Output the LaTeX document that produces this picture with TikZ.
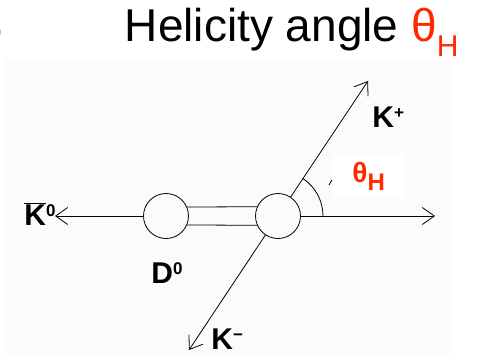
\documentclass[tikz,border=0pt]{standalone}
\usepackage{fontspec}
\setmainfont{Liberation Sans}
\usetikzlibrary{positioning,arrows.meta}
\definecolor{thred}{RGB}{255,40,0}
\definecolor{slidecyan}{RGB}{40,170,170}
\definecolor{figbg}{RGB}{251,251,251}
\newcommand{\ptsup}[1]{\raisebox{9pt}{\fontsize{17}{17}\selectfont #1}}

\begin{document}
\begin{tikzpicture}[x=1pt,y=1pt,>={Straight Barb[length=12pt,width=17pt]},line width=0.8pt,
  lbl/.style={anchor=base west,inner sep=0pt,font=\fontsize{30}{30}\selectfont\bfseries}]
  \useasboundingbox (0,0) rectangle (478,354);
  \fill[figbg] (5,0) rectangle (452,294);
  \node[anchor=base east,inner sep=0pt,text=slidecyan,font=\fontsize{46}{46}\selectfont] (frag) at (4,312) {S};
  \node[anchor=base west,inner sep=0pt,font=\fontsize{46}{46}\selectfont] (title) at (124.5,312)
    {Helicity angle \textcolor{thred}{θ\raisebox{-15pt}{\fontsize{30}{30}\selectfont H}}};
  \foreach \n/\x in {lc/166,rc/278} {
    \node[draw,circle,minimum size=45pt,inner sep=0pt] (\n) at (\x,138) {};
  }
  \coordinate (kbartip) at (55,138);
  \coordinate (rtip) at (435,138);
  \coordinate (kptip) at (368,273);
  \coordinate (kmtip) at (189,4);
  \draw[->] (lc) -- (kbartip);
  \draw[->] (rc) -- (rtip);
  \draw[->] (rc) -- (kptip);
  \draw[->] (rc) -- (kmtip);
  \draw (lc.23.6) -- (rc.156.4);
  \draw (lc.-23.6) -- (rc.-156.4);
  \draw (rc.center) ++(45,0) arc[start angle=0,end angle=56.3,radius=45];
  \draw (329,169) -- (332,174);
  \node[lbl] (kplus) at (372,227) {K\ptsup{+}};
  \node[lbl,text=thred,fill=white,inner xsep=19pt,inner ysep=8pt,font=\fontsize{28}{28}\selectfont\bfseries] (theta) at (333,172)
    {θ\raisebox{-8pt}{\fontsize{24}{24}\selectfont H}};
  \node[lbl] (kbar0) at (24,129) {\ensuremath{\overline{\hbox{K}}}\ptsup{0}};
  \node[lbl] (d0) at (151,71) {D\ptsup{0}};
  \node[lbl] (kminus) at (211,5) {K\ptsup{−}};
\end{tikzpicture}
\end{document}
